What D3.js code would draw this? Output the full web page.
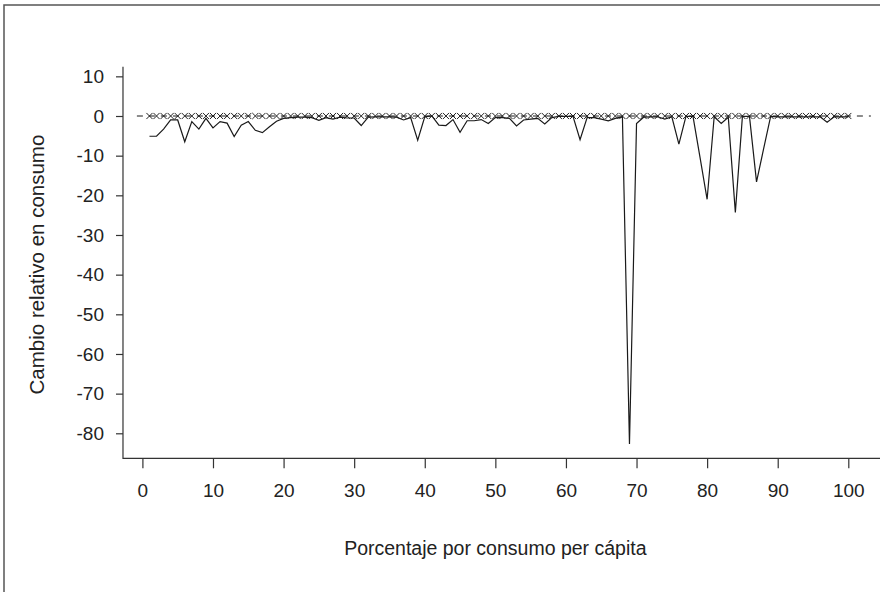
<!DOCTYPE html>
<html>
<head>
<meta charset="utf-8">
<script src="https://cdn.jsdelivr.net/npm/d3@7"></script>
<style>
  html, body { margin: 0; padding: 0; background: #fff; }
  svg { display: block; }
  text { font-family: "Liberation Sans", Arial, Helvetica, sans-serif; fill: #222; }
</style>
</head>
<body>
<svg id="chart" width="880" height="592"></svg>
<script>
// Percentiles of per-capita consumption
const percentiles = d3.range(1, 101);

// Relative change in consumption (%) for each percentile
const relativeChange = [
  -5.1, -5.1, -3.3, -1.0, -1.0, -6.5, -1.4, -3.3, -0.6, -3.0,
  -1.4, -1.8, -5.2, -2.3, -1.4, -3.6, -4.2, -2.7, -1.3, -0.6,
  -0.4, -0.3, -0.3, -0.4, -1.1, -0.4, -0.8, -0.3, -0.5, -0.5,
  -2.4, -0.3, -0.2, -0.2, -0.2, -0.3, -1.0, -0.4, -6.1, -0.2,
   0.0, -2.3, -2.4, -0.9, -4.1, -1.2, -1.2, -0.9, -1.9, -0.4,
  -0.4, -0.6, -2.5, -1.0, -0.8, -0.6, -2.0, -0.4, -0.1, -0.1,
  -0.1, -6.0, -0.4, -0.4, -0.8, -1.2, -0.6, -0.2, -82.7, -1.9,
  -0.3, -0.2, -0.2, -0.8, -0.2, -7.1, -0.1, -0.1, -10.5, -21.0,
  -0.2, -1.9, -0.3, -24.3, -0.1, -0.1, -16.6, -8.3, -0.1, -0.2,
  -0.2, -0.2, -0.2, -0.2, -0.2, -0.2, -1.6, -0.2, -0.2, -0.2
];

// Reference scenario: no change for any percentile
const referenceChange = [
  0, 0, 0, 0, 0, 0, 0, 0, 0, 0,
  0, 0, 0, 0, 0, 0, 0, 0, 0, 0,
  0, 0, 0, 0, 0, 0, 0, 0, 0, 0,
  0, 0, 0, 0, 0, 0, 0, 0, 0, 0,
  0, 0, 0, 0, 0, 0, 0, 0, 0, 0,
  0, 0, 0, 0, 0, 0, 0, 0, 0, 0,
  0, 0, 0, 0, 0, 0, 0, 0, 0, 0,
  0, 0, 0, 0, 0, 0, 0, 0, 0, 0,
  0, 0, 0, 0, 0, 0, 0, 0, 0, 0,
  0, 0, 0, 0, 0, 0, 0, 0, 0, 0
];

const xTicks = [0, 10, 20, 30, 40, 50, 60, 70, 80, 90, 100];
const yTicks = [10, 0, -10, -20, -30, -40, -50, -60, -70, -80];

const xTitle = "Porcentaje por consumo per cápita";
const yTitle = "Cambio relativo en consumo";

const svg = d3.select("#chart");
const axisColor = "#333";
const inkColor = "#1a1a1a";
const fontStack = "'Liberation Sans', Arial, Helvetica, sans-serif";

const x = d3.scaleLinear().domain([0, 100]).range([142.4, 848.3]);
const y = d3.scaleLinear().domain([0, -80]).range([116, 433.3]);

// Outer frame (top and left edges)
svg.append("path")
  .attr("d", "M4,592 L4,5 L880,5")
  .attr("fill", "none")
  .attr("stroke", "#555")
  .attr("stroke-width", 1.5);

// Plot-region extents in data units
const xLo = -2.75, xHi = 104.6;
const yLo = -86.3, yHi = 12.4;

// Axis lines (left and bottom)
svg.append("path")
  .attr("d", `M${x(xLo)},${y(yHi)} L${x(xLo)},${y(yLo)} L${x(xHi)},${y(yLo)}`)
  .attr("fill", "none")
  .attr("stroke", axisColor)
  .attr("stroke-width", 1.2);

// Plain hyphen-minus labels
const tickLabel = d => String(d);

// Y axis ticks and labels
const yAxis = svg.append("g")
  .attr("transform", `translate(${x(xLo)},0)`)
  .call(d3.axisLeft(y).tickValues(yTicks).tickSize(7).tickPadding(12).tickFormat(tickLabel));
yAxis.select(".domain").remove();
yAxis.selectAll(".tick line").attr("stroke", axisColor).attr("stroke-width", 1.2);
yAxis.selectAll(".tick text")
  .attr("font-size", 19)
  .attr("font-family", fontStack)
  .attr("fill", "#222");

// X axis ticks and labels
const xAxis = svg.append("g")
  .attr("transform", `translate(0,${y(yLo)})`)
  .call(d3.axisBottom(x).tickValues(xTicks).tickSize(10).tickPadding(15).tickFormat(tickLabel));
xAxis.select(".domain").remove();
xAxis.selectAll(".tick line").attr("stroke", axisColor).attr("stroke-width", 1.2);
xAxis.selectAll(".tick text")
  .attr("font-size", 19)
  .attr("font-family", fontStack)
  .attr("fill", "#222");

// Axis titles, centred on the plot region
svg.append("text")
  .attr("x", (x(0) + x(100)) / 2)
  .attr("y", 555)
  .attr("text-anchor", "middle")
  .attr("font-size", 19.5)
  .text(xTitle);

svg.append("text")
  .attr("transform", `translate(44,${(y(yHi) + y(yLo)) / 2 + 2}) rotate(-90)`)
  .attr("text-anchor", "middle")
  .attr("font-size", 20.5)
  .text(yTitle);

// Dashed zero reference line
svg.append("line")
  .attr("x1", x(-0.78)).attr("x2", x(103.2))
  .attr("y1", y(0)).attr("y2", y(0))
  .attr("stroke", inkColor)
  .attr("stroke-width", 1)
  .attr("stroke-dasharray", "6,6");

// Reference scenario markers (crosses)
const cross = d3.symbol().type(d3.symbolX).size(26);
svg.append("g")
  .selectAll("path")
  .data(percentiles.map((p, i) => ({ p, v: referenceChange[i] })))
  .join("path")
  .attr("transform", d => `translate(${x(d.p)},${y(d.v)})`)
  .attr("d", cross)
  .attr("fill", "none")
  .attr("stroke", "#222")
  .attr("stroke-width", 1);

// Relative change line
const line = d3.line()
  .x(d => x(d.p))
  .y(d => y(d.v));

svg.append("path")
  .datum(percentiles.map((p, i) => ({ p, v: relativeChange[i] })))
  .attr("d", line)
  .attr("fill", "none")
  .attr("stroke", inkColor)
  .attr("stroke-width", 1.2)
  .attr("stroke-linejoin", "miter");
</script>
</body>
</html>
